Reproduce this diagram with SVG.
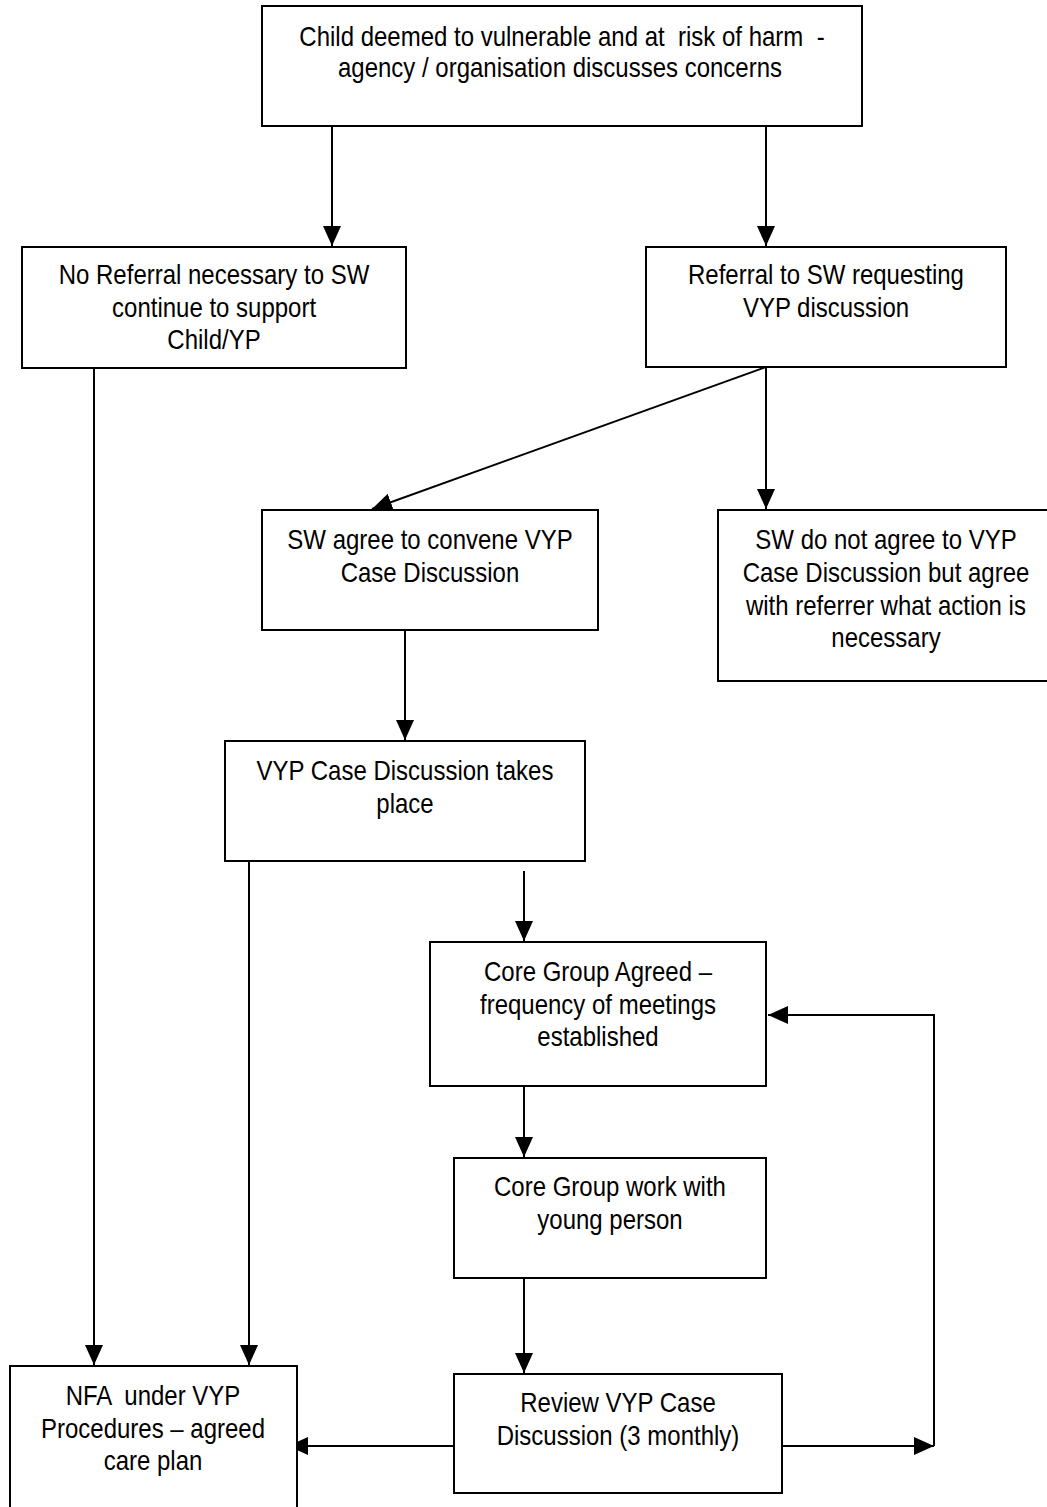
<svg xmlns="http://www.w3.org/2000/svg" width="1047" height="1507" viewBox="0 0 1047 1507">
<style>
.box{fill:#fff;stroke:#000;stroke-width:2}
.t{font-family:"Liberation Sans Narrow","Arial Narrow","Liberation Sans",sans-serif;font-size:28px;fill:#000;text-anchor:middle;white-space:pre;transform-box:fill-box;transform-origin:center;transform:scaleX(0.857)}
.c{fill:none;stroke:#000;stroke-width:2}
</style>
<defs>
<marker id="ah" markerUnits="userSpaceOnUse" markerWidth="22" markerHeight="18" refX="20" refY="9" orient="auto">
<path d="M0,0 L20,9 L0,18 Z" fill="#000"/>
</marker>
</defs>
<rect width="1047" height="1507" fill="#fff"/>
<g id="connectors">
<line class="c" x1="332" y1="126" x2="332" y2="246" marker-end="url(#ah)"/>
<line class="c" x1="766" y1="126" x2="766" y2="246" marker-end="url(#ah)"/>
<line class="c" x1="766" y1="367" x2="372" y2="509" marker-end="url(#ah)"/>
<line class="c" x1="766" y1="367" x2="766" y2="509" marker-end="url(#ah)"/>
<line class="c" x1="405" y1="630" x2="405" y2="740" marker-end="url(#ah)"/>
<line class="c" x1="94" y1="368" x2="94" y2="1365" marker-end="url(#ah)"/>
<line class="c" x1="249" y1="861" x2="249" y2="1365" marker-end="url(#ah)"/>
<line class="c" x1="524" y1="871" x2="524" y2="941" marker-end="url(#ah)"/>
<line class="c" x1="524" y1="1086" x2="524" y2="1157" marker-end="url(#ah)"/>
<line class="c" x1="524" y1="1278" x2="524" y2="1373" marker-end="url(#ah)"/>
<line class="c" x1="454" y1="1446" x2="288" y2="1446" marker-end="url(#ah)"/>
<line class="c" x1="782" y1="1446" x2="934" y2="1446" marker-end="url(#ah)"/>
<polyline class="c" points="934,1446 934,1015 768,1015" marker-end="url(#ah)"/>
</g>
<g id="n1"><rect class="box" x="262" y="6" width="600" height="120"/>
<text class="t" x="562" y="46" xml:space="preserve">Child deemed to vulnerable and at  risk of harm  -</text>
<text class="t" x="560" y="77">agency / organisation discusses concerns</text></g>
<g id="n2"><rect class="box" x="22" y="247" width="384" height="121"/>
<text class="t" x="214" y="284">No Referral necessary to SW</text>
<text class="t" x="214" y="317">continue to support</text>
<text class="t" x="214" y="349">Child/YP</text></g>
<g id="n3"><rect class="box" x="646" y="247" width="360" height="120"/>
<text class="t" x="826" y="284">Referral to SW requesting</text>
<text class="t" x="826" y="317">VYP discussion</text></g>
<g id="n4"><rect class="box" x="262" y="510" width="336" height="120"/>
<text class="t" x="430" y="549">SW agree to convene VYP</text>
<text class="t" x="430" y="582">Case Discussion</text></g>
<g id="n5"><rect class="box" x="718" y="510" width="340" height="171"/>
<text class="t" x="886" y="549">SW do not agree to VYP</text>
<text class="t" x="886" y="582">Case Discussion but agree</text>
<text class="t" x="886" y="615">with referrer what action is</text>
<text class="t" x="886" y="647">necessary</text></g>
<g id="n6"><rect class="box" x="225" y="741" width="360" height="120"/>
<text class="t" x="405" y="780">VYP Case Discussion takes</text>
<text class="t" x="405" y="813">place</text></g>
<g id="n7"><rect class="box" x="430" y="942" width="336" height="144"/>
<text class="t" x="598" y="981">Core Group Agreed –</text>
<text class="t" x="598" y="1014">frequency of meetings</text>
<text class="t" x="598" y="1046">established</text></g>
<g id="n8"><rect class="box" x="454" y="1158" width="312" height="120"/>
<text class="t" x="610" y="1196">Core Group work with</text>
<text class="t" x="610" y="1229">young person</text></g>
<g id="n9"><rect class="box" x="10" y="1366" width="287" height="150"/>
<text class="t" x="153" y="1405" xml:space="preserve">NFA  under VYP</text>
<text class="t" x="153" y="1438">Procedures – agreed</text>
<text class="t" x="153" y="1470">care plan</text></g>
<g id="n10"><rect class="box" x="454" y="1374" width="328" height="119"/>
<text class="t" x="618" y="1412">Review VYP Case</text>
<text class="t" x="618" y="1445">Discussion (3 monthly)</text></g>
</svg>
